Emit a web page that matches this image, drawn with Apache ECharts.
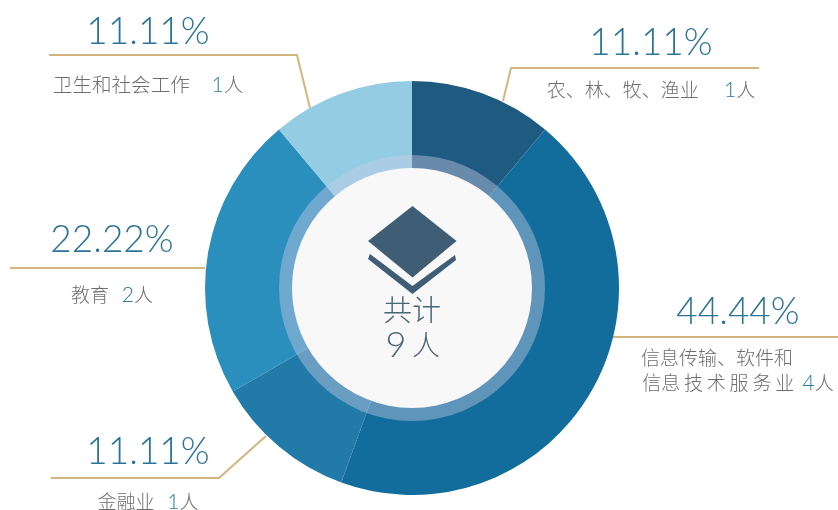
<!DOCTYPE html>
<html><head><meta charset="utf-8">
<script src="https://cdn.jsdelivr.net/npm/echarts@6/dist/echarts.min.js"></script>
<style>html,body{margin:0;padding:0;background:#fff}#c{width:838px;height:510px}</style></head>
<body><div id="c"></div>
<script>
const categories = [['农、林、牧、渔业'], ['信息传输、软件和', '信息\u2009技\u2009术\u2009服\u2009务\u2009业'], ['金融业'], ['教育'], ['卫生和社会工作']];
const counts = [1, 4, 1, 2, 1];
const sliceColors = ['#1f5a80', '#126d9c', '#217aa7', '#2b8fbd', '#93cce3'];
const gaps = ['      ', '  ', '   ', '   ', '     '];
const labelX = [651, 738, 148, 112, 148];
const pctY = [43, 312, 452, 240, 32];
const nameGap = [47, 46, 50, 55, 53];
const nameSize = [19, 19, 19, 19, 19.6];
const leaderPoints = [
  [[503, 101], [511, 68], [759, 68]],
  [[613, 337], [700, 337], [838, 337]],
  [[266, 436], [219, 478], [51, 478]],
  [[205, 268], [100, 268], [10, 268]],
  [[310, 108], [297, 55], [49, 55]]
];
const total = counts.reduce((a, b) => a + b, 0);
const cjk = '"Noto Sans CJK SC"';
const center = [412, 288];
const NAME_H = 25;
const pctH = nameGap.map(g => 2 * g - NAME_H);

const chart = echarts.init(document.getElementById('c'), null, {renderer: 'canvas'});
chart.setOption({
  animation: false,
  backgroundColor: '#fff',
  series: [{
    type: 'pie', center, radius: [0, 207], startAngle: 90, clockwise: true,
    silent: true, avoidLabelOverlap: false,
    data: counts.map((v, i) => {
      const lines = categories[i];
      const head = lines.slice(0, -1).map(l => `{nm2|${l}}`).join('\n');
      const last = `{nm|${lines[lines.length - 1]}${gaps[i]}}{num|${v}}{nm|人}`;
      const pct = (v / total * 100).toFixed(2) + '%';
      const nameBase = {fontFamily: cjk, fontWeight: 300, fontSize: nameSize[i], color: '#6e6e6e', lineHeight: NAME_H};
      return {
        value: v, name: lines.join(''),
        itemStyle: {color: sliceColors[i]},
        label: {
          show: true, align: 'center', verticalAlign: 'top',
          formatter: `{pct|${pct}}\n` + (head ? head + '\n' : '') + last,
          rich: {
            pct: {fontFamily: 'Lato', fontWeight: 300, fontSize: 37, color: '#2a7399', height: pctH[i], lineHeight: pctH[i]},
            nm: nameBase,
            nm2: Object.assign({}, nameBase, {width: 194, align: 'left'}),
            num: {fontFamily: 'Lato', fontWeight: 300, fontSize: 21, color: '#2b7ba3', lineHeight: NAME_H}
          }
        },
        labelLine: {show: true, smooth: false, lineStyle: {color: '#d2b57f', width: 2}}
      };
    }),
    labelLayout: p => ({
      x: labelX[p.dataIndex], y: pctY[p.dataIndex] - pctH[p.dataIndex] / 2,
      align: 'center', verticalAlign: 'top',
      labelLinePoints: leaderPoints[p.dataIndex]
    }),
    emphasis: {disabled: true}
  }, {
    type: 'pie', center, radius: [0, 133], silent: true, z: 3,
    label: {show: false}, labelLine: {show: false},
    itemStyle: {color: 'rgba(205,205,230,0.42)'},
    data: [{value: 1, name: 'ring'}], emphasis: {disabled: true}
  }, {
    type: 'pie', center, radius: [0, 120], silent: true, z: 4,
    itemStyle: {color: '#f8f8f9'},
    label: {show: false}, labelLine: {show: false},
    data: [{value: 1, name: 'core'}], emphasis: {disabled: true}
  }],
  graphic: {elements: [
    {type: 'polygon', z: 100, shape: {points: [[412.5, 206], [456.5, 241], [412.5, 277.5], [368, 241]]}, style: {fill: '#3f5d75'}},
    {type: 'polygon', z: 100, shape: {points: [[370, 254], [412.5, 286], [455, 255], [456, 260], [412.5, 294], [368, 259]]}, style: {fill: '#3f5d75'}},
    {type: 'text', z: 100, x: 412, y: 310, style: {text: '共计', font: `300 29px ${cjk}`, fill: '#4a6478', align: 'center', verticalAlign: 'middle'}},
    {type: 'text', z: 100, x: 396, y: 345, style: {text: String(total), font: '300 36px Lato', fill: '#4a6478', align: 'center', verticalAlign: 'middle'}},
    {type: 'text', z: 100, x: 426, y: 345, style: {text: '人', font: `300 28px ${cjk}`, fill: '#4a6478', align: 'center', verticalAlign: 'middle'}}
  ]}
});
</script></body></html>
